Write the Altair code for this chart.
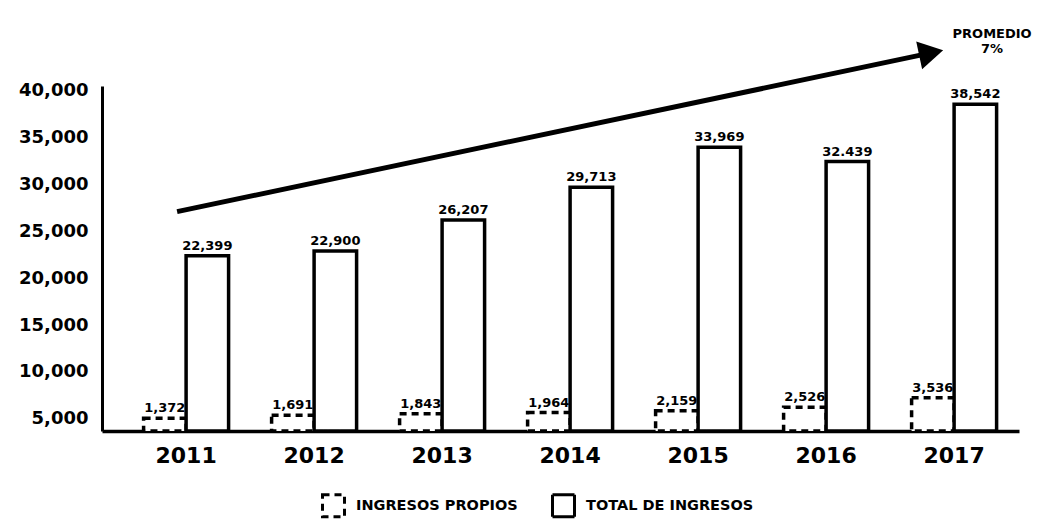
import altair as alt
import pandas as pd

FONT = "DejaVu Sans"

years = ["2011", "2012", "2013", "2014", "2015", "2016", "2017"]
propios = [1372, 1691, 1843, 1964, 2159, 2526, 3536]
total = [22399, 22900, 26207, 29713, 33969, 32439, 38542]
propios_labels = ["1,372", "1,691", "1,843", "1,964", "2,159", "2,526", "3,536"]
total_labels = ["22,399", "22,900", "26,207", "29,713", "33,969", "32.439", "38,542"]
series = ["INGRESOS PROPIOS", "TOTAL DE INGRESOS"]
y_ticks = [5000, 10000, 15000, 20000, 25000, 30000, 35000, 40000]

arrow_years = ["2011", "2017"]
arrow_values = [27100, 44030]
note_lines = ["PROMEDIO", "7%"]
note_values = [46050, 44450]

BASE = 3700
Y_TOP = 40500

rows = []
for i, yr in enumerate(years):
    rows.append({"year": yr, "serie": series[0], "valor": propios[i], "label": propios_labels[i]})
for i, yr in enumerate(years):
    rows.append({"year": yr, "serie": series[1], "valor": total[i], "label": total_labels[i]})
bars_df = pd.DataFrame(rows)

arrow_df = pd.DataFrame({"y0": [arrow_years[0]], "y1": [arrow_years[1]],
                         "v0": [arrow_values[0]], "v1": [arrow_values[1]]})
note_df = pd.DataFrame({"year": [arrow_years[1]] * 2, "txt": note_lines, "v": note_values})

xscale = alt.Scale(domain=years, paddingInner=0.336, paddingOuter=0.25, align=0.65)
yscale = alt.Scale(domain=[BASE, Y_TOP], nice=False, zero=False)

x_enc = alt.X("year:N", scale=xscale, sort=years, title=None,
              axis=alt.Axis(labelAngle=0, labelFontSize=22, labelFont=FONT, labelFontWeight="bold",
                            labelColor="black", domainColor="black", domainWidth=3.5,
                            ticks=False, labelPadding=14, grid=False))
xoff = alt.XOffset("serie:N", sort=series,
                   scale=alt.Scale(domain=series, paddingInner=0, paddingOuter=0))

legend = alt.Legend(orient="none", legendX=219, legendY=407, direction="horizontal",
                    title=None, labelFont=FONT, labelFontSize=14.5, labelFontWeight="bold",
                    labelColor="black", labelLimit=0, symbolType="square", symbolSize=484,
                    symbolStrokeWidth=3, symbolFillColor="white", symbolOpacity=1,
                    columnPadding=28, labelOffset=10)

base = alt.Chart(bars_df).transform_calculate(
    lo=f"{BASE}",
    hi=f"datum.serie == '{series[0]}' ? {BASE} + datum.valor : datum.valor",
)

bars = base.mark_bar(fill="white", strokeWidth=3.5).encode(
    x=x_enc,
    xOffset=xoff,
    y=alt.Y("hi:Q", scale=yscale, title=None,
            axis=alt.Axis(values=y_ticks, format=",.0f", labelFontSize=18, labelFont=FONT,
                          labelFontWeight="bold", labelColor="black", domainColor="black",
                          domainWidth=3, ticks=False, grid=False, labelPadding=14)),
    y2="lo:Q",
    stroke=alt.Stroke("serie:N", scale=alt.Scale(domain=series, range=["black", "black"]),
                      legend=legend),
    strokeDash=alt.StrokeDash("serie:N", scale=alt.Scale(domain=series, range=[[7, 5], [1, 0]]),
                              legend=legend),
)

labels = base.mark_text(font=FONT, fontSize=13, fontWeight="bold", color="black",
                        baseline="alphabetic", dy=-6).encode(
    x=alt.X("year:N", scale=xscale, sort=years),
    xOffset=xoff,
    y=alt.Y("hi:Q", scale=yscale),
    text="label:N",
)

arrow_line = alt.Chart(arrow_df).mark_rule(color="black", strokeWidth=5).encode(
    x=alt.X("y0:N", scale=xscale, bandPosition=0.394),
    x2=alt.X2("y1:N", bandPosition=0.23),
    y=alt.Y("v0:Q", scale=yscale),
    y2="v1:Q",
)

arrow_head = alt.Chart(arrow_df).mark_point(shape="triangle-right", filled=True, color="black",
                                           size=800, angle=348, opacity=1).encode(
    x=alt.X("y1:N", scale=xscale, bandPosition=0.23),
    y=alt.Y("v1:Q", scale=yscale),
)

note = alt.Chart(note_df).mark_text(font=FONT, fontSize=13, fontWeight="bold", color="black",
                                    baseline="middle", dx=38).encode(
    x=alt.X("year:N", scale=xscale),
    y=alt.Y("v:Q", scale=yscale),
    text="txt:N",
)

chart = alt.layer(bars, labels, arrow_line, arrow_head, note).properties(
    width=917, height=345,
    padding={"left": 10, "top": 19, "right": 0, "bottom": 5},
).configure_view(stroke=None)

chart.save("out.html", embed_options={"renderer": "svg", "actions": False})
